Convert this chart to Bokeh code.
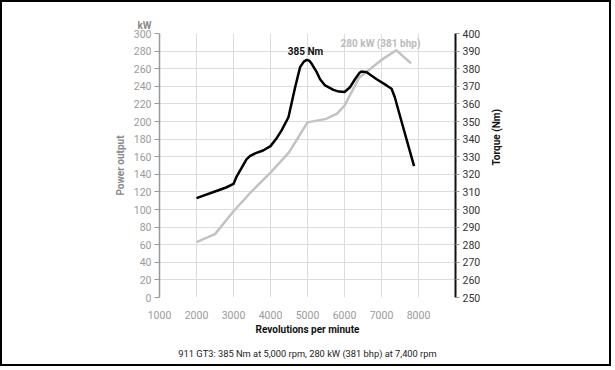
import math
from bokeh.plotting import figure
from bokeh.models import Range1d, LinearAxis, FixedTicker, Label, Title
from bokeh.embed import file_html
from bokeh.resources import INLINE

# ---- data ----
rpm_power = [2000, 2500, 3000, 3500, 4000, 4500, 5000, 5500, 5800, 6000, 6400, 6700, 7000, 7400, 7800]
power_kw = [63, 72, 98, 121, 142, 165, 199, 203, 209, 218, 250, 260, 270, 281, 266]

rpm_torque = [2000, 2500, 2800, 3000, 3080, 3200, 3350, 3450, 3600, 3800, 4000, 4150, 4300, 4485,
              4666, 4800, 4900, 4980, 5050, 5114, 5250, 5340, 5475, 5700, 5850, 6000, 6150, 6283,
              6400, 6460, 6600, 6870, 7137, 7272, 7360, 7496, 7880]
torque_nm = [306.5, 310.2, 312.5, 314.5, 318.5, 323, 328.5, 330.5, 332, 333.5, 336, 340, 345, 352.4,
             369.5, 380.9, 384, 385, 384.5, 382.8, 378, 374, 370.5, 368, 367, 366.8, 369.5, 374,
             377.5, 378.4, 378, 374, 370.5, 368.6, 363.8, 353.4, 324.6]

x_ticks = [1000, 2000, 3000, 4000, 5000, 6000, 7000, 8000]
kw_ticks = list(range(0, 301, 20))
nm_ticks = list(range(250, 401, 10))

peak_torque_label = "385 Nm"
peak_power_label = "280 kW (381 bhp)"
caption = "911 GT3: 385 Nm at 5,000 rpm, 280 kW (381 bhp) at 7,400 rpm"

FONT = "Roboto"
GRAY_TXT = "#9a9a9a"
LABEL_GRAY = "#8a8a8a"

p = figure(width=611, height=366, output_backend="svg", toolbar_location=None,
           x_range=Range1d(1000, 9000), y_range=Range1d(0, 300),
           min_border_left=157, min_border_right=158, min_border_top=31, min_border_bottom=71)
p.styles = {"border": "2px solid black"}
p.extra_y_ranges = {"torque": Range1d(250, 400)}
p.outline_line_color = None
p.background_fill_color = "white"
p.border_fill_color = "white"

# x axis
xa = p.xaxis[0]
xa.ticker = FixedTicker(ticks=x_ticks)
xa.axis_line_color = None
xa.major_tick_line_color = None
xa.minor_tick_line_color = None
xa.major_label_standoff = 7
xa.major_label_text_color = GRAY_TXT
xa.major_label_text_font = FONT
xa.major_label_text_font_size = "10.5px"
xa.axis_label = "Revolutions per minute"
xa.axis_label_text_font = FONT
xa.axis_label_text_font_style = "bold"
xa.axis_label_text_font_size = "10px"
xa.axis_label_text_color = "#111111"
xa.axis_label_standoff = 2

# left axis
ya = p.yaxis[0]
ya.ticker = FixedTicker(ticks=kw_ticks)
ya.axis_line_color = "#999999"
ya.axis_line_width = 1.5
ya.major_tick_line_color = "#999999"
ya.major_tick_out = 5
ya.major_tick_in = 0
ya.minor_tick_line_color = None
ya.major_label_standoff = 3
ya.major_label_text_color = GRAY_TXT
ya.major_label_text_font = FONT
ya.major_label_text_font_size = "10.5px"
ya.axis_label = "Power output"
ya.axis_label_text_font = FONT
ya.axis_label_text_font_style = "bold"
ya.axis_label_text_font_size = "10px"
ya.axis_label_text_color = LABEL_GRAY
ya.axis_label_standoff = 5

# right axis
ra = LinearAxis(y_range_name="torque", ticker=FixedTicker(ticks=nm_ticks))
ra.axis_line_color = "#111111"
ra.axis_line_width = 2
ra.major_tick_line_color = "#999999"
ra.major_tick_out = 4
ra.major_tick_in = 0
ra.minor_tick_line_color = None
ra.major_label_standoff = 3
ra.major_label_text_color = "#333333"
ra.major_label_text_font = FONT
ra.major_label_text_font_size = "10.5px"
ra.axis_label = "Torque (Nm)"
ra.axis_label_text_font = FONT
ra.axis_label_text_font_style = "bold"
ra.axis_label_text_font_size = "10px"
ra.axis_label_text_color = "#111111"
ra.axis_label_standoff = 13
try:
    ra.axis_label_orientation = math.pi / 2
except Exception:
    pass
p.add_layout(ra, "right")

p.xgrid.grid_line_color = "#dcdcdc"
p.ygrid.grid_line_color = "#dcdcdc"

p.add_layout(Title(text="kW", align="left", offset=-22, text_font=FONT, text_font_style="bold",
                   text_font_size="10px", text_color=LABEL_GRAY, standoff=6), "above")
p.add_layout(Title(text=caption, align="center", offset=-6, text_font=FONT, text_font_style="normal",
                   text_font_size="9.3px", text_color="#222222", standoff=16), "below")

p.line(rpm_power, power_kw, line_color="#c2c2c2", line_width=2.5, line_join="round")
p.line(rpm_torque, torque_nm, y_range_name="torque", line_color="black", line_width=2.5, line_join="round")

def lab(x, y, text, color):
    p.add_layout(Label(x=x, y=y, text=text, text_align="center", text_baseline="middle",
                       text_font=FONT, text_font_style="bold", text_font_size="10px", text_color=color))

lab(4946, 280.1, peak_torque_label, "#111111")
lab(6973, 288.6, peak_power_label, "#bbbbbb")

open("out.html", "w").write(file_html(p, INLINE))
